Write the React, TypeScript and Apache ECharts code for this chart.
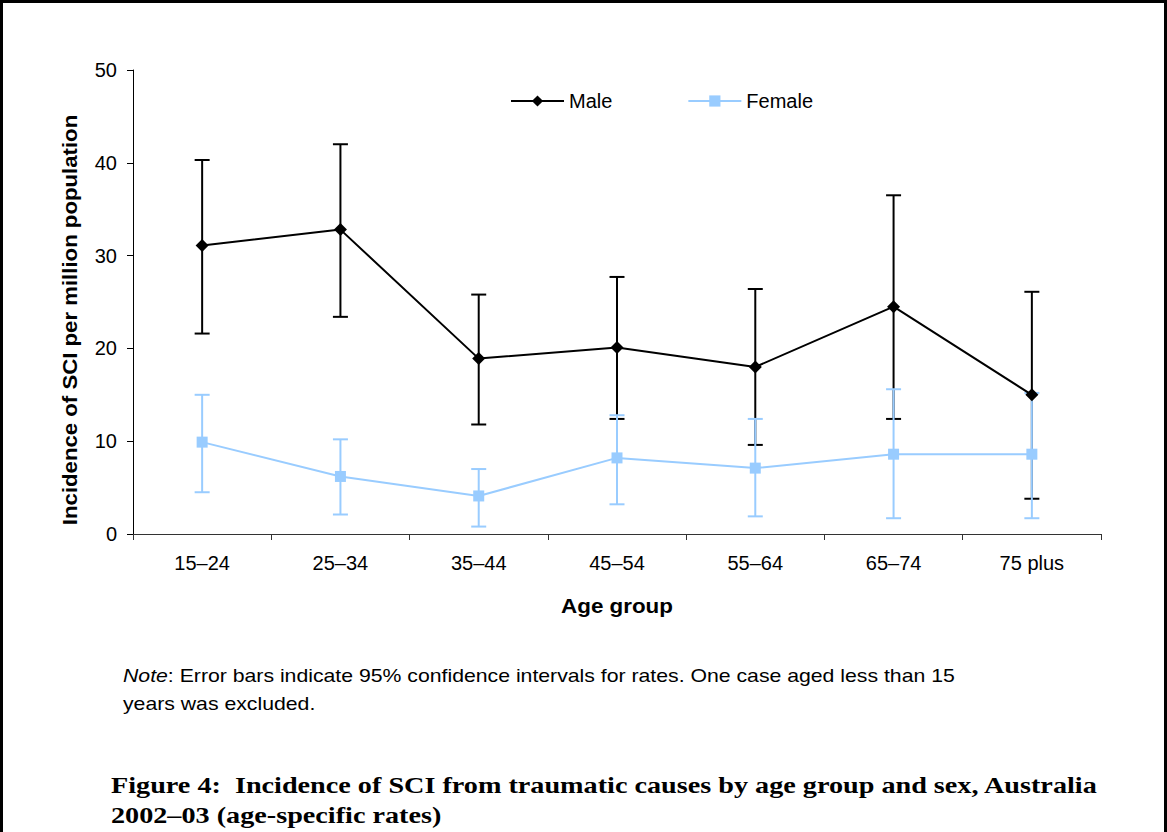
import React, { useEffect, useRef } from "react";
import * as echarts from "echarts";

// Age-specific incidence of traumatic SCI (per million population), with 95% CIs
const categories = ["15–24", "25–34", "35–44", "45–54", "55–64", "65–74", "75 plus"];
const maleRate = [31.1, 32.8, 18.9, 20.1, 18.0, 24.5, 15.0];
const maleLower = [21.6, 23.4, 11.8, 12.4, 9.6, 12.4, 3.8];
const maleUpper = [40.3, 42.0, 25.8, 27.7, 26.4, 36.5, 26.1];
const femaleRate = [9.9, 6.2, 4.1, 8.2, 7.1, 8.6, 8.6];
const femaleLower = [4.5, 2.1, 0.8, 3.2, 1.9, 1.7, 1.7];
const femaleUpper = [15.0, 10.2, 7.0, 12.8, 12.4, 15.6, 15.2];
const yTicks = { min: 0, max: 50, interval: 10 };

const SANS = 'Arial, "Liberation Sans", sans-serif';
const SERIF = '"Book Antiqua", Palatino, "Liberation Serif", serif';
const MALE_COLOR = "#000000";
const FEMALE_COLOR = "#99CCFF";

function errorBarSeries(name: string, lower: number[], upper: number[], color: string, z: number) {
  return {
    type: "custom",
    name,
    z,
    silent: true,
    data: lower.map((lo, i) => [i, lo, upper[i]]),
    encode: { x: 0, y: [1, 2] },
    renderItem: (params: any, api: any) => {
      const idx = api.value(0);
      const lo = api.coord([idx, api.value(1)]);
      const hi = api.coord([idx, api.value(2)]);
      const half = 7.5;
      const style = { stroke: color, lineWidth: 2, fill: "none" };
      return {
        type: "group",
        children: [
          { type: "line", shape: { x1: hi[0], y1: hi[1], x2: lo[0], y2: lo[1] }, style },
          { type: "line", shape: { x1: hi[0] - half, y1: hi[1], x2: hi[0] + half, y2: hi[1] }, style },
          { type: "line", shape: { x1: lo[0] - half, y1: lo[1], x2: lo[0] + half, y2: lo[1] }, style },
        ],
      };
    },
  };
}

export default function App() {
  const ref = useRef<HTMLDivElement>(null);

  useEffect(() => {
    if (!ref.current) return;
    const chart = echarts.init(ref.current, null, { renderer: "svg" });
    chart.setOption({
      animation: false,
      backgroundColor: "#ffffff",
      grid: { left: 133, top: 70, right: 66, bottom: 298, containLabel: false },
      legend: {
        data: ["Male", "Female"],
        left: 510,
        top: 91,
        padding: 0,
        itemWidth: 53,
        itemHeight: 14,
        itemGap: 75,
        textStyle: { fontFamily: SANS, fontSize: 20, color: "#000" },
      },
      xAxis: {
        type: "category",
        data: categories,
        boundaryGap: true,
        axisLine: { lineStyle: { color: "#333", width: 1 } },
        axisTick: { show: true, length: 6, interval: 0, lineStyle: { color: "#333" } },
        axisLabel: { fontFamily: SANS, fontSize: 20, color: "#000", margin: 19, interval: 0 },
        splitLine: { show: false },
      },
      yAxis: {
        type: "value",
        min: yTicks.min,
        max: yTicks.max,
        interval: yTicks.interval,
        axisLine: { show: true, lineStyle: { color: "#000", width: 1 } },
        axisTick: { show: true, length: 6, lineStyle: { color: "#000" } },
        axisLabel: { fontFamily: SANS, fontSize: 20, color: "#000", margin: 16 },
        splitLine: { show: false },
      },
      series: [
        errorBarSeries("Male CI", maleLower, maleUpper, MALE_COLOR, 1),
        errorBarSeries("Female CI", femaleLower, femaleUpper, FEMALE_COLOR, 2),
        {
          type: "line",
          name: "Female",
          z: 3,
          data: femaleRate,
          symbol: "rect",
          symbolSize: 11,
          itemStyle: { color: FEMALE_COLOR },
          lineStyle: { color: FEMALE_COLOR, width: 2 },
        },
        {
          type: "line",
          name: "Male",
          z: 4,
          data: maleRate,
          symbol: "diamond",
          symbolSize: 13,
          itemStyle: { color: MALE_COLOR },
          lineStyle: { color: MALE_COLOR, width: 2 },
        },
      ],
      graphic: [
        {
          type: "polyline",
          silent: true,
          shape: { points: [[1.5, 832], [1.5, 1.5], [1165.5, 1.5], [1165.5, 832]] },
          style: { stroke: "#000", lineWidth: 3, fill: "none" },
        },
        {
          type: "text",
          x: 70,
          y: 320,
          rotation: Math.PI / 2,
          scaleX: 1.11,
          style: {
            text: "Incidence of SCI per million population",
            fontFamily: SANS,
            fontSize: 20,
            fontWeight: "bold",
            fill: "#000",
            align: "center",
            verticalAlign: "middle",
          },
        },
        {
          type: "text",
          x: 617,
          y: 606,
          scaleX: 1.12,
          style: {
            text: "Age group",
            fontFamily: SANS,
            fontSize: 20,
            fontWeight: "bold",
            fill: "#000",
            align: "center",
            verticalAlign: "middle",
          },
        },
        {
          type: "text",
          x: 123,
          y: 662,
          scaleX: 1.18,
          style: {
            text: "{i|Note}: Error bars indicate 95% confidence intervals for rates. One case aged less than 15\nyears was excluded.",
            fontFamily: SANS,
            fontSize: 18,
            lineHeight: 28,
            fill: "#000",
            align: "left",
            verticalAlign: "top",
            rich: {
              i: { fontFamily: SANS, fontSize: 18, lineHeight: 28, fontStyle: "italic", fill: "#000" },
            },
          },
        },
        {
          type: "text",
          x: 111,
          y: 770,
          scaleX: 1.175,
          style: {
            text: "Figure 4:  Incidence of SCI from traumatic causes by age group and sex, Australia\n2002–03 (age-specific rates)",
            fontFamily: SERIF,
            fontSize: 24,
            fontWeight: "bold",
            lineHeight: 30,
            fill: "#000",
            align: "left",
            verticalAlign: "top",
          },
        },
      ],
    });
    return () => chart.dispose();
  }, []);

  return (
    <div
      ref={ref}
      style={{ position: "absolute", left: 0, top: 0, width: 1167, height: 832, background: "#fff" }}
    />
  );
}
